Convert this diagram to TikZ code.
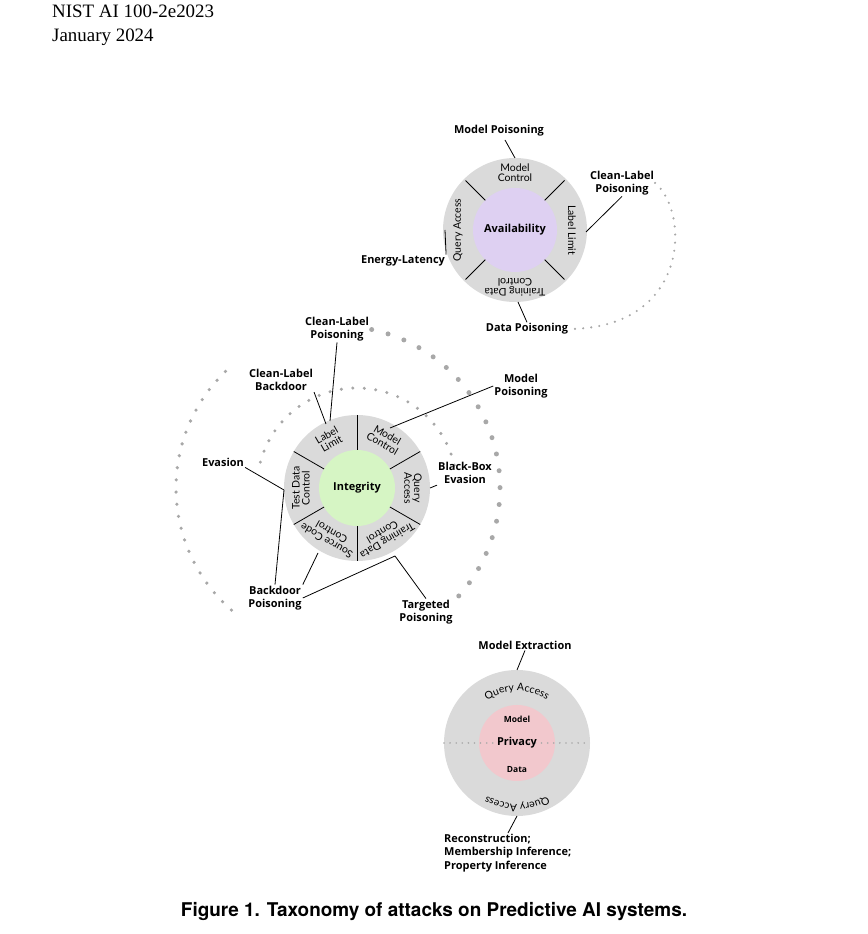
\documentclass[tikz,border=0pt]{standalone}
\usepackage{fontspec}
\setmainfont{Liberation Serif}
\newfontfamily\labfont{Open Sans}
\newfontfamily\segfont{Lato}
\newfontfamily\capfontx{TeX Gyre Heros}
\usetikzlibrary{decorations.text,calc}
\definecolor{ring}{RGB}{218,218,218}
\definecolor{avail}{RGB}{222,208,242}
\definecolor{integ}{RGB}{214,245,196}
\definecolor{priv}{RGB}{242,200,205}
\definecolor{dotc}{RGB}{168,168,168}
\begin{document}
\begin{tikzpicture}[x=1bp,y=1bp,
  lab/.style={font=\labfont\bfseries\fontsize{11}{13.5}\selectfont,align=center,inner sep=1pt},
  seg/.style={font=\segfont\fontsize{10.5}{10}\selectfont,align=center,inner sep=0pt},
  ln/.style={black,line width=0.8pt},
  dots/.style={dotc,line cap=round,line width=#1,dash pattern=on 0pt off 3.4*#1},
  ctr/.style={font=\labfont\bfseries\fontsize{11}{13}\selectfont}]
\useasboundingbox (0,0) rectangle (868,934);
% header
\node[anchor=north west,inner sep=0pt,font=\fontsize{19}{24}\selectfont,align=left] (hdr) at (52,929) {NIST AI 100-2e2023\\January 2024};
\node[font=\capfontx\bfseries\fontsize{19}{22}\selectfont] (cap) at (434,22) {Figure 1. Taxonomy of attacks on Predictive AI systems.};

% ===== Availability =====
\coordinate (A) at (515,704);
\fill[ring] (A) circle (72);
\fill[avail] (A) circle (42);
\foreach \a in {45,135,225,315} \draw[ln] ($(A)+(\a:42)$) -- ($(A)+(\a:70)$);
\node[seg] (a1) at ($(A)+(90:57)$) {Model\\Control};
\node[seg,rotate=-90] (a2) at ($(A)+(0:57)$) {Label Limit};
\node[seg,rotate=180] (a3) at ($(A)+(270:57)$) {Training Data\\Control};
\node[seg,rotate=90] (a4) at ($(A)+(180:57)$) {Query Access};
\node[ctr] (ac) at (A) {Availability};
\node[lab] (amp) at (499,803) {Model Poisoning};
\node[lab] (aclp) at (622,751) {Clean-Label\\Poisoning};
\node[lab] (ael) at (403,673) {Energy-Latency};
\node[lab] (adp) at (527,605) {Data Poisoning};
\coordinate (ae1) at (515,776);
\coordinate (ae2) at (586,702);
\coordinate (ae3) at (445,704);
\coordinate (ae4) at (518,632);
\coordinate (t1) at (505,794);
\draw[ln] (t1) -- (ae1);
\draw[ln] (aclp.south) -- (ae2);
\draw[ln] (ael.north east) -- (ae3);
\draw[ln] (adp.north) -- (ae4);
\draw[dots=2.4pt] (aclp.east) .. controls (690,722) and (690,606) .. (adp.east);

% ===== Integrity =====
\coordinate (I) at (357,446);
\draw[dots=3.4pt] ($(I)+(165:100)$) arc[start angle=165,end angle=12,radius=100];
\coordinate (I2) at (338,446);
\draw[dots=3.6pt] ($(I2)+(134:162)$) arc[start angle=134,end angle=229,radius=162];
\draw[dots=5pt] ($(I2)+(78:162)$) arc[start angle=78,end angle=-44,radius=162];
\fill[ring] (I) circle (73);
\fill[integ] (I) circle (38);
\foreach \a in {30,90,150,210,270,330} \draw[ln] ($(I)+(\a:38)$) -- ($(I)+(\a:73)$);
\node[seg,rotate=30] (i1) at ($(I)+(120:56)$) {Label\\Limit};
\node[seg,rotate=-30] (i2) at ($(I)+(60:56)$) {Model\\Control};
\node[seg,rotate=-90] (i3) at ($(I)+(0:56)$) {Query\\Access};
\node[seg,rotate=-150] (i4) at ($(I)+(-60:56)$) {Training Data\\Control};
\node[seg,rotate=150] (i5) at ($(I)+(-120:56)$) {Source Code\\Control};
\node[seg,rotate=90] (i6) at ($(I)+(180:56)$) {Test Data\\Control};
\node[ctr] (ic) at (I) {Integrity};
\node[lab] (iclp) at (337,605) {Clean-Label\\Poisoning};
\node[lab] (iclb) at (281,554) {Clean-Label\\Backdoor};
\node[lab] (imp) at (521,548) {Model\\Poisoning};
\node[lab] (iev) at (223,472) {Evasion};
\node[lab] (ibb) at (465,461) {Black-Box\\Evasion};
\node[lab] (ibp) at (275,336) {Backdoor\\Poisoning};
\node[lab] (itp) at (426,322) {Targeted\\Poisoning};
\coordinate (ie1) at (330,513);
\coordinate (ie2) at (326,510);
\coordinate (ie3) at (390,506);
\coordinate (ie4) at (284,444);
\coordinate (ie5) at (430,446);
\coordinate (ie6) at (318,381);
\coordinate (ie7) at (395,378);
\draw[ln] (iclp.south) -- (ie1);
\draw[ln] (iclb.south east) -- (ie2);
\draw[ln] (imp.west) -- (ie3);
\draw[ln] (iev.south east) -- (ie4);
\draw[ln] (ibb.south west) -- (ie5);
\draw[ln] (ibp.north) -- (ie4);
\draw[ln] (ibp.north east) -- (ie6);
\draw[ln] (ibp.east) -- (ie7);
\draw[ln] (itp.north) -- (ie7);

% ===== Privacy =====
\coordinate (P) at (517,191);
\fill[ring] (P) circle (73);
\fill[priv] (P) circle (38);
\draw[dots=1.8pt] ($(P)+(-73,0)$) coordinate (pl) -- ($(P)+(73,0)$) coordinate (pr);
\path[decorate,decoration={text along path,text align=center,text={|\segfont\fontsize{10.5}{10}\selectfont|Query Access}}]
  ($(P)+(125:52)$) arc[start angle=125,end angle=55,radius=52];
\path[decorate,decoration={text along path,text align=center,text={|\segfont\fontsize{10.5}{10}\selectfont|Query Access}}]
  ($(P)+(-55:61)$) arc[start angle=-55,end angle=-125,radius=61];
\node[ctr] (pc) at (P) {Privacy};
\node[font=\labfont\bfseries\fontsize{8.5}{10}\selectfont] (pm) at (517,215) {Model};
\node[font=\labfont\bfseries\fontsize{8.5}{10}\selectfont] (pd) at (517,164) {Data};
\node[lab] (pme) at (525,289) {Model Extraction};
\node[lab,anchor=north west,align=left] (prc) at (443,101) {Reconstruction;\\Membership Inference;\\Property Inference};
\coordinate (pe1) at (517,264);
\coordinate (pe2) at (517,118);
\coordinate (pe3) at (508,101);
\draw[ln] (pme.south) -- (pe1);
\draw[ln] (pe3) -- (pe2);
\end{tikzpicture}
\end{document}
